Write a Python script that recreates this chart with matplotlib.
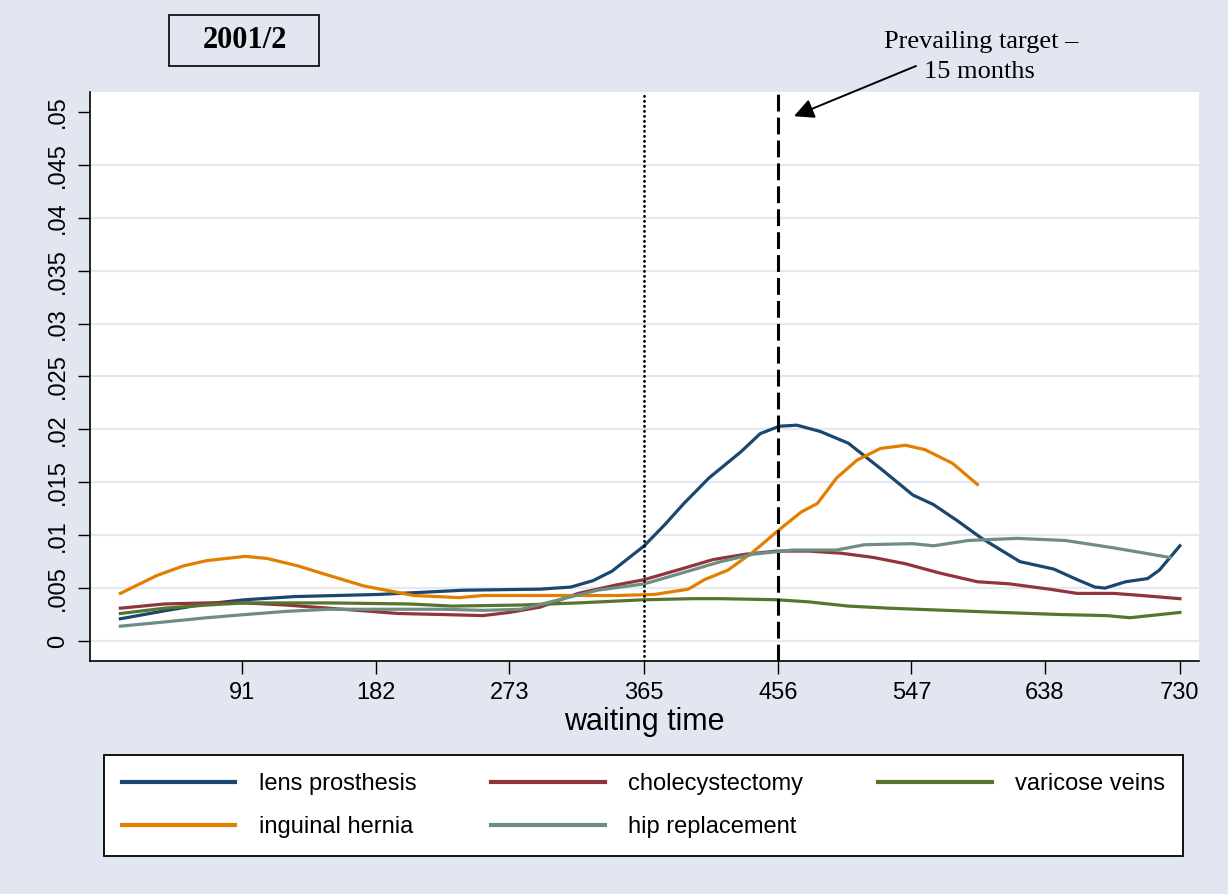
import matplotlib
matplotlib.use("Agg")
import matplotlib.pyplot as plt
from matplotlib.patches import Rectangle

# waiting time (days) and density values
lens_x = [8, 40, 66, 93, 127, 184, 242, 294, 315, 330, 343, 354, 365, 379, 392, 409,
          431, 444, 457, 469, 485, 504, 526, 548, 562, 578, 595, 608, 621, 644, 660,
          672, 679, 693, 708, 716, 730]
lens_y = [0.0021, 0.0029, 0.0035, 0.0039, 0.0042, 0.0044, 0.0048, 0.0049, 0.0051,
          0.0057, 0.0066, 0.0078, 0.0090, 0.0110, 0.0130, 0.0154, 0.0179, 0.0196,
          0.0203, 0.0204, 0.0198, 0.0187, 0.0163, 0.0138, 0.0129, 0.0114, 0.0097,
          0.0086, 0.0075, 0.0068, 0.0058, 0.0051, 0.0050, 0.0056, 0.0059, 0.0067,
          0.0090]

chole_x = [8, 38, 67, 93, 121, 150, 179, 197, 228, 255, 273, 294, 320, 346, 365,
           390, 412, 434, 455, 477, 499, 521, 543, 567, 592, 614, 641, 660, 685, 704,
           730]
chole_y = [0.0031, 0.0035, 0.0036, 0.0036, 0.0034, 0.0031, 0.0028, 0.0026, 0.0025,
           0.0024, 0.0027, 0.0032, 0.0045, 0.0053, 0.0058, 0.0068, 0.0077, 0.0082,
           0.0085, 0.0085, 0.0083, 0.0079, 0.0073, 0.0064, 0.0056, 0.0054, 0.0049,
           0.0045, 0.0045, 0.0043, 0.0040]

varic_x = [8, 38, 67, 93, 150, 205, 234, 281, 320, 365, 398, 417, 455, 477, 504,
           532, 570, 608, 649, 680, 696, 730]
varic_y = [0.0026, 0.0031, 0.0034, 0.0036, 0.0036, 0.0035, 0.0033, 0.0034, 0.0036,
           0.0039, 0.0040, 0.0040, 0.0039, 0.0037, 0.0033, 0.0031, 0.0029, 0.0027,
           0.0025, 0.0024, 0.0022, 0.0027]

hernia_x = [8, 33, 51, 67, 93, 108, 129, 150, 174, 208, 239, 255, 294, 346, 372,
            395, 406, 422, 439, 455, 472, 483, 496, 510, 526, 543, 556, 575, 592]
hernia_y = [0.0045, 0.0062, 0.0071, 0.0076, 0.0080, 0.0078, 0.0071, 0.0062, 0.0052,
            0.0043, 0.0041, 0.0043, 0.0043, 0.0043, 0.0044, 0.0049, 0.0058, 0.0067,
            0.0084, 0.0103, 0.0122, 0.0130, 0.0154, 0.0171, 0.0182, 0.0185, 0.0181,
            0.0168, 0.0148]

hip_x = [8, 38, 67, 93, 121, 150, 179, 228, 255, 281, 307, 333, 365, 390, 417, 439,
         466, 496, 515, 548, 562, 586, 619, 652, 685, 723]
hip_y = [0.0014, 0.0018, 0.0022, 0.0025, 0.0028, 0.0030, 0.0030, 0.0030, 0.0029,
         0.0030, 0.0039, 0.0048, 0.0054, 0.0064, 0.0075, 0.0082, 0.0086, 0.0086,
         0.0091, 0.0092, 0.0090, 0.0095, 0.0097, 0.0095, 0.0088, 0.0079]

x_ticks = [91, 182, 273, 365, 456, 547, 638, 730]
y_ticks = [0, 0.005, 0.01, 0.015, 0.02, 0.025, 0.03, 0.035, 0.04, 0.045, 0.05]
y_ticklabels = ["0", ".005", ".01", ".015", ".02", ".025", ".03", ".035", ".04",
                ".045", ".05"]

BG = "#E1E6F0"
SANS = ["Liberation Sans", "DejaVu Sans"]
SERIF = ["Liberation Serif", "DejaVu Serif"]

W, H = 1228, 894
fig = plt.figure(figsize=(W / 100, H / 100), dpi=100, facecolor=BG)
ax = fig.add_axes([90 / W, 1 - 661 / H, (1199 - 90) / W, (661 - 92) / H])
ax.set_facecolor("white")

for yv in y_ticks[:-1]:
    ax.axhline(yv, color="#E4E8F1", lw=1.6, zorder=0)

lines = {}
lw = 2.3
lines["lens"], = ax.plot(lens_x, lens_y, color="#1A476F", lw=lw, label="lens prosthesis")
lines["chole"], = ax.plot(chole_x, chole_y, color="#90353B", lw=lw, label="cholecystectomy")
lines["varic"], = ax.plot(varic_x, varic_y, color="#55752F", lw=lw, label="varicose veins")
lines["hernia"], = ax.plot(hernia_x, hernia_y, color="#E37E00", lw=lw, label="inguinal hernia")
lines["hip"], = ax.plot(hip_x, hip_y, color="#6E8E84", lw=lw, label="hip replacement")

ax.axvline(365, color="black", lw=2.0, linestyle=(0, (0.1, 1.7)),
           dash_capstyle="round")
ax.axvline(456, color="black", lw=2.2, linestyle=(0, (5.5, 2)))

ax.set_xlim(-12.7, 743)
ax.set_ylim(-0.00189, 0.05189)

ax.set_xticks(x_ticks)
ax.set_xticklabels([str(t) for t in x_ticks], fontsize=17, family=SANS)
ax.set_yticks(y_ticks)
ax.set_yticklabels(y_ticklabels, fontsize=17, family=SANS, rotation=90, va="center")
ax.tick_params(axis="both", length=9, width=1, direction="out", pad=6)
ax.set_xlabel("waiting time", fontsize=22, family=SANS, labelpad=2)

for s in ["top", "right"]:
    ax.spines[s].set_visible(False)
for s in ["left", "bottom"]:
    ax.spines[s].set_linewidth(1.2)

# title box
fig.patches.append(Rectangle((169 / W, 1 - 66 / H), 150 / W, 51 / H,
                             transform=fig.transFigure, fill=False, lw=1.2,
                             edgecolor="black"))
fig.text(245 / W, 1 - 41 / H, "2001/2", fontsize=22, fontweight="bold",
         family=SERIF, ha="center", va="center")

# annotation
fig.text(981 / W, 1 - 42 / H, "Prevailing target \u2013", fontsize=19,
         family=SERIF, ha="center", va="center")
fig.text(979 / W, 1 - 72 / H, "15 months", fontsize=19, family=SERIF,
         ha="center", va="center")
ax.annotate("", xy=(467, 0.0496), xycoords="data",
            xytext=(916 / W, 1 - 66 / H), textcoords="figure fraction",
            arrowprops=dict(arrowstyle="-|>", color="black", lw=1.4,
                            mutation_scale=30, shrinkA=0, shrinkB=0),
            annotation_clip=False)

order = ["lens", "hernia", "chole", "hip", "varic"]
leg = fig.legend([lines[k] for k in order], [lines[k].get_label() for k in order],
                 ncol=3, loc="lower left",
                 bbox_to_anchor=(104 / W, 1 - 856 / H, (1183 - 104) / W, (856 - 755) / H),
                 mode="expand", borderaxespad=0, prop={"family": SANS, "size": 17},
                 handlelength=4.8, handletextpad=1.0, columnspacing=2.6,
                 borderpad=0.75, labelspacing=0.9, fancybox=False,
                 edgecolor="black", framealpha=1, facecolor="white")
leg.get_frame().set_linewidth(1.3)
for h in leg.legend_handles:
    h.set_linewidth(3)

fig.savefig("out.png", dpi=100, facecolor=BG)
